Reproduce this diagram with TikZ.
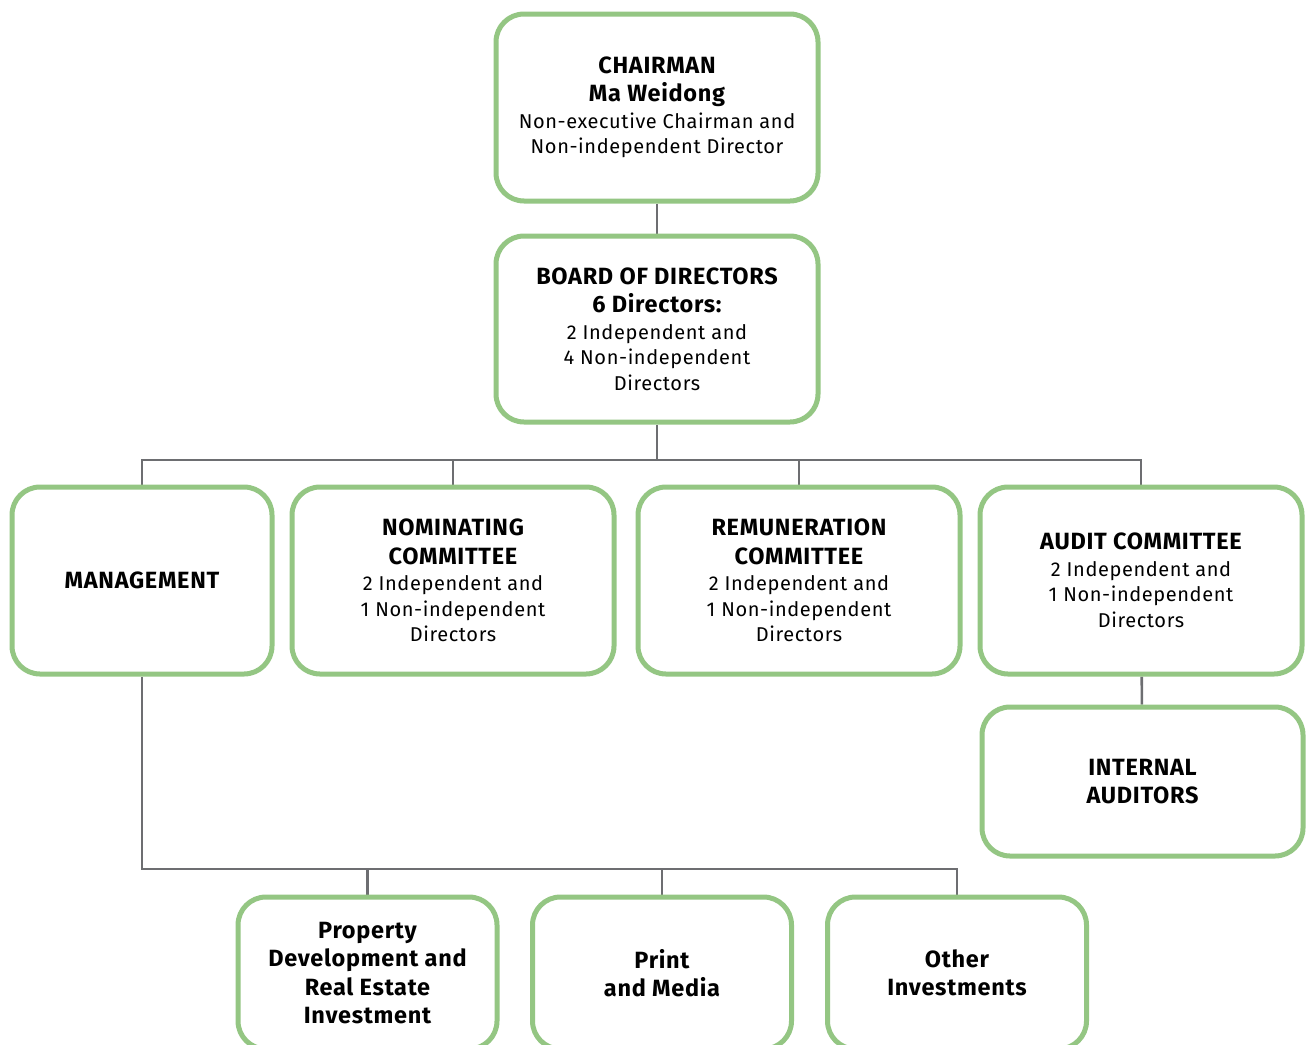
\documentclass[tikz,border=0pt]{standalone}
\usepackage{fontspec}
\setmainfont{Fira Sans}[LetterSpace=3]
\usetikzlibrary{backgrounds}
\definecolor{boxgreen}{HTML}{94C683}
\definecolor{linegrey}{HTML}{6D6E71}
\tikzset{
  orgbox/.style={draw=boxgreen, line width=5pt, rounded corners=28pt, fill=white,
    inner sep=0pt, align=center, text=black,
    font=\fontsize{20}{25.5}\selectfont},
  link/.style={draw=linegrey, line width=2.6pt},
}
\newcommand{\hd}[1]{{\bfseries\fontsize{23.5}{29}\selectfont #1}}
\begin{document}
\begin{tikzpicture}[x=1pt,y=-1pt]
\useasboundingbox (0,0) rectangle (1308,1044);
\node[orgbox, minimum width=322pt, minimum height=187pt] (chair) at (657,107.5)
  {\hd{CHAIRMAN}\\[3pt]\hd{Ma Weidong}\\[1pt]Non-executive Chairman and\\Non-independent Director};
\node[orgbox, minimum width=322pt, minimum height=186pt] (board) at (657,329)
  {\hd{BOARD OF DIRECTORS}\\[3pt]\hd{6 Directors:}\\[1pt]2 Independent and\\4 Non-independent\\Directors};
\node[orgbox, minimum width=260pt, minimum height=187pt] (mgmt) at (142,580.5)
  {\hd{MANAGEMENT}};
\node[orgbox, minimum width=322pt, minimum height=187pt] (nom) at (453,580.5)
  {\hd{NOMINATING}\\[3pt]\hd{COMMITTEE}\\[1pt]2 Independent and\\1 Non-independent\\Directors};
\node[orgbox, minimum width=322pt, minimum height=187pt] (rem) at (799,580.5)
  {\hd{REMUNERATION}\\[3pt]\hd{COMMITTEE}\\[1pt]2 Independent and\\1 Non-independent\\Directors};
\node[orgbox, minimum width=322pt, minimum height=187pt] (audit) at (1141,580.5)
  {\hd{AUDIT COMMITTEE}\\[1pt]2 Independent and\\1 Non-independent\\Directors};
\node[orgbox, minimum width=321pt, minimum height=149pt] (intaud) at (1142.5,781.5)
  {\hd{INTERNAL}\\[3pt]\hd{AUDITORS}};
\node[orgbox, minimum width=259pt, minimum height=152pt] (prop) at (367.5,973)
  {\hd{Property}\\[3pt]\hd{Development and}\\[3pt]\hd{Real Estate}\\[3pt]\hd{Investment}};
\node[orgbox, minimum width=259pt, minimum height=152pt] (print) at (662,973)
  {\hd{Print}\\[3pt]\hd{and Media}};
\node[orgbox, minimum width=259pt, minimum height=152pt] (other) at (957,973)
  {\hd{Other}\\[3pt]\hd{Investments}};
\coordinate (bus) at (657,460);
\coordinate (bus2) at (660,869);
\begin{scope}[on background layer]
\draw[link] (chair) -- (board);
\draw[link] (board) -- (bus);
\draw[link] (mgmt.north) |- (bus) -| (audit.north);
\draw[link] (nom.north) -- (nom.north |- bus);
\draw[link] (rem.north) -- (rem.north |- bus);
\draw[link] (audit) -- (intaud);
\draw[link] (mgmt.south) |- (bus2) -| (other.north);
\draw[link] (prop.north) -- (prop.north |- bus2);
\draw[link] (print.north) -- (print.north |- bus2);
\end{scope}
\end{tikzpicture}
\end{document}
